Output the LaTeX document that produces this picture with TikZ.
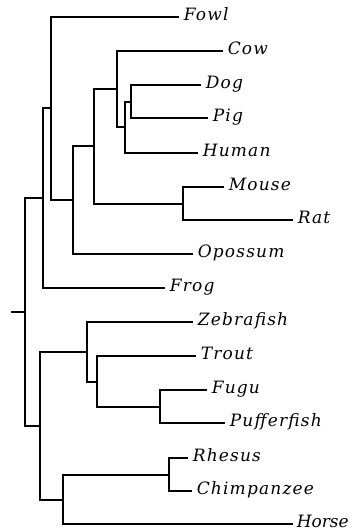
\documentclass[tikz,border=0pt]{standalone}
\usepackage{fontspec}
\setmainfont{DejaVu Serif}
\newfontfamily\taxonfont[LetterSpace=7]{DejaVu Serif}

\begin{document}
\begin{tikzpicture}[x=1pt, y=-1pt, line width=1.6pt,
    taxon/.style={anchor=west, inner ysep=0pt, inner xsep=4pt, text height=0.72em, text depth=0pt, font=\taxonfont\fontsize{17}{17}\selectfont\itshape}]

	\useasboundingbox (0,0) rectangle (351,532);

	% inner nodes of the tree
	\coordinate (tick) at (11,312);
	\coordinate (root) at (25,312);
	\coordinate (A) at (43,198);
	\coordinate (B) at (51,108);
	\coordinate (C) at (73,200);
	\coordinate (D) at (94,146);
	\coordinate (E) at (117,89);
	\coordinate (F) at (125,127);
	\coordinate (G) at (131,102);
	\coordinate (MR) at (183,204);
	\coordinate (H) at (40,426);
	\coordinate (I) at (87,352);
	\coordinate (K) at (97,382);
	\coordinate (L) at (160,407);
	\coordinate (J) at (63,500);
	\coordinate (M) at (169,475);

	% leaves
	\node [taxon] (fowl) at (179,17) {Fowl};
	\node [taxon] (cow) at (223,51) {Cow};
	\node [taxon] (dog) at (201,85) {Dog};
	\node [taxon] (pig) at (208,118) {Pig};
	\node [taxon] (human) at (198,153) {Human};
	\node [taxon] (mouse) at (224,187) {Mouse};
	\node [taxon] (rat) at (293,220) {Rat};
	\node [taxon] (opossum) at (193,254) {Opossum};
	\node [taxon] (frog) at (165,288) {Frog};
	\node [taxon] (zebrafish) at (193,322) {Zebrafish};
	\node [taxon] (trout) at (196,356) {Trout};
	\node [taxon] (fugu) at (207,390) {Fugu};
	\node [taxon] (pufferfish) at (225,423) {Pufferfish};
	\node [taxon] (rhesus) at (188,458) {Rhesus};
	\node [taxon] (chimp) at (192,491) {Chimpanzee};
	\node [taxon, inner xsep=3pt] (horse) at (293,524) {\addfontfeature{LetterSpace=0}Horse};

	\draw (tick) -- (root);
	\draw (root) |- (A);
	\draw (root) |- (H);

	\draw (A) |- (B);
	\draw (A) |- (frog);
	\draw (B) |- (fowl);
	\draw (B) |- (C);
	\draw (C) |- (D);
	\draw (C) |- (opossum);
	\draw (D) |- (E);
	\draw (D) |- (MR);
	\draw (E) |- (cow);
	\draw (E) |- (F);
	\draw (F) |- (G);
	\draw (F) |- (human);
	\draw (G) |- (dog);
	\draw (G) |- (pig);
	\draw (MR) |- (mouse);
	\draw (MR) |- (rat);

	\draw (H) |- (I);
	\draw (H) |- (J);
	\draw (I) |- (zebrafish);
	\draw (I) |- (K);
	\draw (K) |- (trout);
	\draw (K) |- (L);
	\draw (L) |- (fugu);
	\draw (L) |- (pufferfish);
	\draw (J) |- (M);
	\draw (J) |- (horse);
	\draw (M) |- (rhesus);
	\draw (M) |- (chimp);

\end{tikzpicture}
\end{document}
